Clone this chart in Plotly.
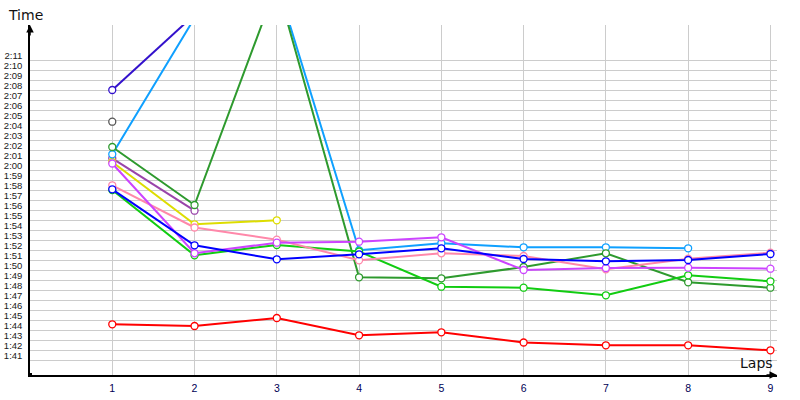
import plotly.graph_objects as go

laps = [1, 2, 3, 4, 5, 6, 7, 8, 9]

# lap times in seconds
red = [104.57, 104.40, 105.20, 103.47, 103.77, 102.75, 102.47, 102.47, 101.97]
blue = [118.07, 112.47, 111.07, 111.57, 112.17, 111.10, 110.87, 111.00, 111.60]
magenta = [120.65, 111.67, 112.73, 112.83, 113.27, 110.00, 110.20, 110.23, 110.13]
pink = [118.47, 114.25, 113.03, 110.97, 111.67, 111.40, 110.07, 111.13, 111.73]
bright_green = [118.00, 111.47, 112.50, 111.85, 108.33, 108.23, 107.47, 109.47, 108.87]
dark_green = [122.30, 116.50, 138.56, 109.27, 109.17, 110.30, 111.67, 108.77, 108.23]
light_blue = [121.57, 135.20, 138.75, 111.97, 112.67, 112.27, 112.27, 112.17]
yellow = [120.80, 114.57, 114.97]
purple = [121.17, 115.93]
dark_blue = [128.00, 135.53]
grey = [124.83]

series = [
    ("grey", grey, "#555555"),
    ("dark_blue", dark_blue, "#3311cc"),
    ("purple", purple, "#9944aa"),
    ("yellow", yellow, "#dddd00"),
    ("light_blue", light_blue, "#0fa0ff"),
    ("dark_green", dark_green, "#2e9a2e"),
    ("bright_green", bright_green, "#11cc11"),
    ("pink", pink, "#ff88aa"),
    ("magenta", magenta, "#cc44ff"),
    ("blue", blue, "#0000ff"),
    ("red", red, "#ff0000"),
]

tick_values = list(range(101, 132))  # 1:41 .. 2:11
tick_labels = [f"{v // 60}:{v % 60:02d}" for v in tick_values]

fig = go.Figure()
for name, vals, color in series:
    fig.add_trace(go.Scatter(
        x=laps[:len(vals)], y=vals, mode="lines+markers", name=name,
        line=dict(color=color, width=2),
        marker=dict(symbol="circle", size=7, color="white",
                    line=dict(color=color, width=1.3)),
        cliponaxis=True,
    ))

fig.update_layout(
    template="none",
    width=800, height=400,
    margin=dict(l=30, r=23, t=25, b=25, autoexpand=False),
    paper_bgcolor="white", plot_bgcolor="white",
    showlegend=False,
    font=dict(family="Liberation Sans", color="#202020"),
    xaxis=dict(
        automargin=False,
        range=[0, 9.08], tickvals=laps, ticktext=[str(v) for v in laps],
        showgrid=True, gridcolor="#cccccc", gridwidth=1,
        zeroline=False, showline=True, linecolor="black", linewidth=1.5,
        ticks="", tickfont=dict(size=10.5, color="#000055", family="Liberation Sans"),
        ticklabelstandoff=3,
    ),
    yaxis=dict(
        automargin=False,
        range=[99.5, 134.5], tickvals=tick_values, ticktext=tick_labels,
        showgrid=True, gridcolor="#cccccc", gridwidth=1,
        zeroline=False, showline=True, linecolor="black", linewidth=1.5,
        ticks="", tickfont=dict(size=9.5, color="#202020", family="Liberation Sans"),
        ticklabelshift=-4, ticklabelstandoff=4,
    ),
    shapes=[dict(type="rect", xref="paper", yref="paper",
                 xsizemode="pixel", ysizemode="pixel", xanchor=0, yanchor=0,
                 x0=-2, x1=2, y0=-2, y1=2, fillcolor="black", line=dict(width=0))],
    annotations=[
        dict(xref="paper", yref="paper", x=0, y=1, ax=0, ay=12, text="",
             showarrow=True, arrowhead=2, arrowsize=1, arrowwidth=1.5, arrowcolor="black"),
        dict(xref="paper", yref="paper", x=1, y=0, ax=-12, ay=0, text="",
             showarrow=True, arrowhead=2, arrowsize=1, arrowwidth=1.5, arrowcolor="black"),
        dict(xref="paper", yref="paper", x=0, y=1, xanchor="center", yanchor="middle",
             xshift=-5, yshift=10, text="Time", showarrow=False,
             font=dict(size=14, color="#111111", family="DejaVu Sans")),
        dict(xref="paper", yref="paper", x=1, y=0, xanchor="right", yanchor="bottom",
             xshift=-2, yshift=2, text="Laps", showarrow=False,
             font=dict(size=14, color="#111111", family="DejaVu Sans")),
    ],
)

# remove the default page margin so the 800x400 figure fills the window exactly
fig.write_html("out.html", config={"displayModeBar": False},
               post_script="document.body.style.margin='0';")
